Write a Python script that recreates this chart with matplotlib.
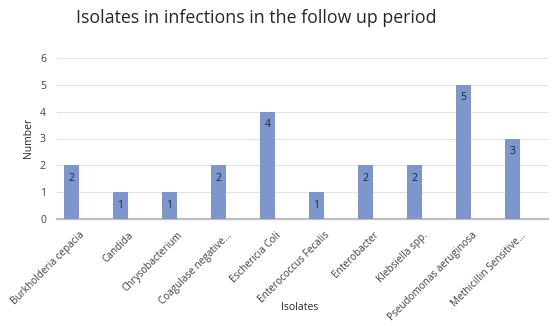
import matplotlib.pyplot as plt
import matplotlib.transforms as mtransforms

isolates = ['Burkholderia cepacia', 'Candida', 'Chrysobacterium',
            'Coagulase negative\u2026', 'Eschericia Coli', 'Enterococcus Fecalis',
            'Enterobacter', 'Klebsiella spp.', 'Pseudomonas aeruginosa',
            'Methicillin Sensitive\u2026']
counts = [2, 1, 1, 2, 4, 1, 2, 2, 5, 3]

plt.rcParams['font.family'] = ['Open Sans', 'DejaVu Sans']

fig = plt.figure(figsize=(5.52, 3.26), dpi=100)
ax = fig.add_axes([57 / 552, 1 - 219 / 326, (548 - 57) / 552, (219 - 58) / 326])

x = list(range(len(isolates)))
bars = ax.bar(x, counts, width=0.305, color='#7D96CE', zorder=3)
for rect, v in zip(bars, counts):
    ax.text(rect.get_x() + rect.get_width() / 2, v - 0.48, str(v),
            ha='center', va='center', fontsize=7.5, color='#262626', zorder=4)

ax.set_xlim(-0.287, 9.72)
ax.set_ylim(0, 6)
ax.set_yticks(range(0, 7))
ax.yaxis.grid(True, color='#E3E3E3', linewidth=0.8, zorder=0)
for s in ['top', 'right', 'left']:
    ax.spines[s].set_visible(False)
ax.spines['bottom'].set_color('#BFBFBF')
ax.spines['bottom'].set_linewidth(1.6)
ax.tick_params(axis='both', length=0, labelsize=7.5, colors='#404040')
ax.tick_params(axis='y', pad=8)

ax.set_xticks(x)
ax.set_xticklabels(isolates, rotation=45, ha='right', rotation_mode='anchor',
                   fontsize=7.2)
offset = mtransforms.ScaledTranslation(8 / 100, -6 / 100, fig.dpi_scale_trans)
for lbl in ax.get_xticklabels():
    lbl.set_transform(lbl.get_transform() + offset)

fig.text(28 / 552, 1 - 138 / 326, 'Number', rotation=90, ha='center', va='center',
         fontsize=7.5, color='#262626')
fig.text(300 / 552, 1 - 308 / 326, 'Isolates', ha='center', va='center',
         fontsize=7.5, color='#262626')
fig.text(256 / 552, 1 - 18 / 326, 'Isolates in infections in the follow up period',
         ha='center', va='center', fontsize=12.8, color='#262626')

fig.savefig('out.png', dpi=100)
